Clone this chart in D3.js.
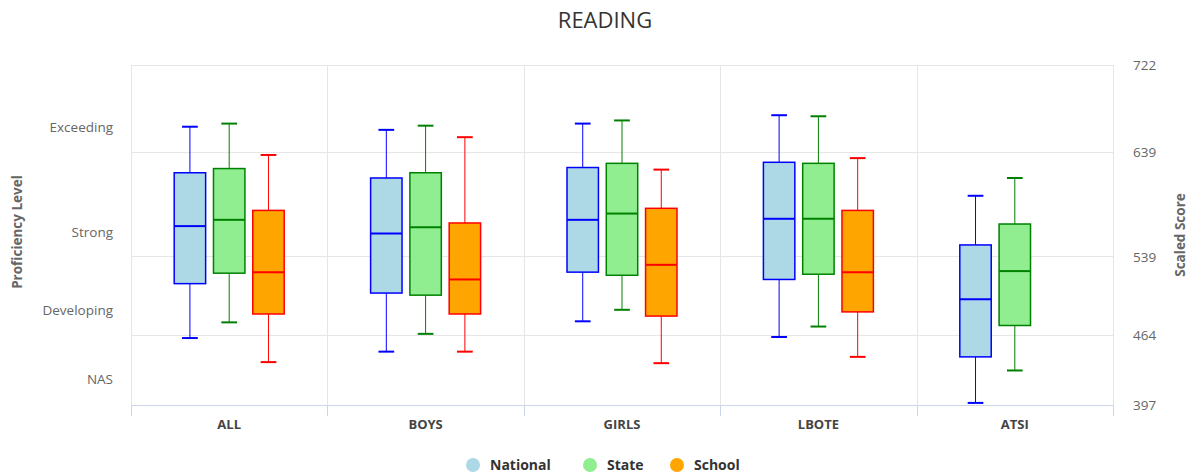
<!DOCTYPE html>
<html><head><meta charset="utf-8">
<script src="https://cdn.jsdelivr.net/npm/d3@7"></script>
<style>
body{margin:0;background:#fff;}
text{font-family:"Open Sans","DejaVu Sans",sans-serif;}
</style></head>
<body><svg id="c" width="1192" height="475"></svg>
<script>
const categories = ["ALL","BOYS","GIRLS","LBOTE","ATSI"];
const seriesNames = ["National","State","School"];
// [low, q1, median, q3, high]
const national = [[461,513,568,619,663],[448,504,561,614,660],[477,524,574,624,666],[462,517,575,629,674],[399,443,498,550,597]];
const state    = [[476,523,574,623,666],[465,502,567,619,664],[488,521,580,628,669],[472,522,575,628,673],[430,473,525,570,614]];
const school   = [[438,484,524,583,636],[448,484,517,571,653],[437,482,531,585,622],[443,486,524,583,633],null];
const scoreTicks = [397,464,539,639,722];
const levelLabels = ["NAS","Developing","Strong","Exceeding"];
const levelValues = [422,488,563,663];
const fills = ["#ADD8E6","#90EE90","#FFA500"];
const strokes = ["#0000FF","#008000","#FF0000"];

const svg = d3.select("#c");
const L=131, R=1113, T=65, B=405;
const y = d3.scaleLinear().domain([397,722]).range([B,T]);
const x = d3.scaleBand().domain(categories).range([L,R]);
// group padding 0.2, point padding 0.1
const groupPad = 0.2*x.bandwidth();
const slot = (x.bandwidth()-2*groupPad)/3;
const boxW = slot*0.8;
const cx = (cat,i)=> x(cat)+groupPad+slot*i+slot/2;

// title
svg.append("text").attr("x",605).attr("y",28).attr("text-anchor","middle")
  .attr("font-size",22).attr("fill","#333333").text("READING");

// horizontal grid
svg.append("g").selectAll("line").data(scoreTicks).join("line")
  .attr("x1",L).attr("x2",R).attr("y1",d=>Math.round(y(d))+0.5).attr("y2",d=>Math.round(y(d))+0.5)
  .attr("stroke","#e6e6e6").attr("stroke-width",1);
// vertical grid at category boundaries
const bounds = categories.map(c=>x(c)).concat([R]);
svg.append("g").selectAll("line").data(bounds).join("line")
  .attr("x1",d=>Math.round(d)+0.5).attr("x2",d=>Math.round(d)+0.5).attr("y1",T).attr("y2",B)
  .attr("stroke","#e6e6e6");
// x axis line and ticks
svg.append("line").attr("x1",L).attr("x2",R).attr("y1",B+0.5).attr("y2",B+0.5).attr("stroke","#ccd6eb");
svg.append("g").selectAll("line").data(bounds).join("line")
  .attr("x1",d=>Math.round(d)+0.5).attr("x2",d=>Math.round(d)+0.5).attr("y1",B).attr("y2",B+11)
  .attr("stroke","#ccd6eb");
// x labels
svg.append("g").selectAll("text").data(categories).join("text")
  .attr("x",d=>x(d)+x.bandwidth()/2).attr("y",429).attr("text-anchor","middle")
  .attr("font-size",13).attr("font-weight","bold").attr("fill","#444444").text(d=>d);

// right axis labels
const rAxis = d3.axisRight(y).tickValues(scoreTicks).tickSize(0).tickPadding(20);
const rg = svg.append("g").attr("transform",`translate(${R},0)`).call(rAxis);
rg.select(".domain").remove();
rg.selectAll("text").attr("font-size",13.5).attr("fill","#666666").attr("font-family","'Open Sans',sans-serif").attr("dy","0.35em");
// left axis labels
const lAxis = d3.axisLeft(y).tickValues(levelValues).tickFormat((d,i)=>levelLabels[i]).tickSize(0).tickPadding(18);
const lg = svg.append("g").attr("transform",`translate(${L},0)`).call(lAxis);
lg.select(".domain").remove();
lg.selectAll("text").attr("font-size",13.5).attr("fill","#666666").attr("font-family","'Open Sans',sans-serif").attr("dy","0.35em");

// axis titles
svg.append("text").attr("transform","translate(22,232) rotate(-90)").attr("text-anchor","middle")
  .attr("font-size",13.5).attr("font-weight","bold").attr("fill","#666666").text("Proficiency Level");
svg.append("text").attr("transform","translate(1185,235) rotate(-90)").attr("text-anchor","middle")
  .attr("font-size",13.5).attr("font-weight","bold").attr("fill","#666666").text("Scaled Score");

// boxes
const allSeries=[national,state,school];
allSeries.forEach((ser,si)=>{
  const g = svg.append("g");
  ser.forEach((d,ci)=>{
    if(!d) return;
    const c = cx(categories[ci],si);
    const [lo,q1,med,q3,hi]=d;
    const ww = boxW/2;
    g.append("line").attr("x1",c).attr("x2",c).attr("y1",y(hi)).attr("y2",y(q3)).attr("stroke",strokes[si]).attr("stroke-width",1);
    g.append("line").attr("x1",c).attr("x2",c).attr("y1",y(q1)).attr("y2",y(lo)).attr("stroke",strokes[si]).attr("stroke-width",1);
    g.append("rect").attr("x",c-boxW/2).attr("y",y(q3)).attr("width",boxW).attr("height",y(q1)-y(q3))
      .attr("fill",fills[si]).attr("stroke",strokes[si]).attr("stroke-width",1.5);
    g.append("line").attr("x1",c-boxW/2).attr("x2",c+boxW/2).attr("y1",y(med)).attr("y2",y(med)).attr("stroke",strokes[si]).attr("stroke-width",2);
    [hi,lo].forEach(v=>g.append("line").attr("x1",c-ww/2).attr("x2",c+ww/2).attr("y1",y(v)).attr("y2",y(v)).attr("stroke",strokes[si]).attr("stroke-width",2));
  });
});

// legend
const legX=[473,590,677];
const lgd = svg.append("g");
seriesNames.forEach((n,i)=>{
  lgd.append("circle").attr("cx",legX[i]).attr("cy",465).attr("r",7).attr("fill",fills[i]);
  lgd.append("text").attr("x",legX[i]+17).attr("y",470).attr("font-size",14).attr("font-weight","bold").attr("fill","#333333").text(n);
});
</script></body></html>
